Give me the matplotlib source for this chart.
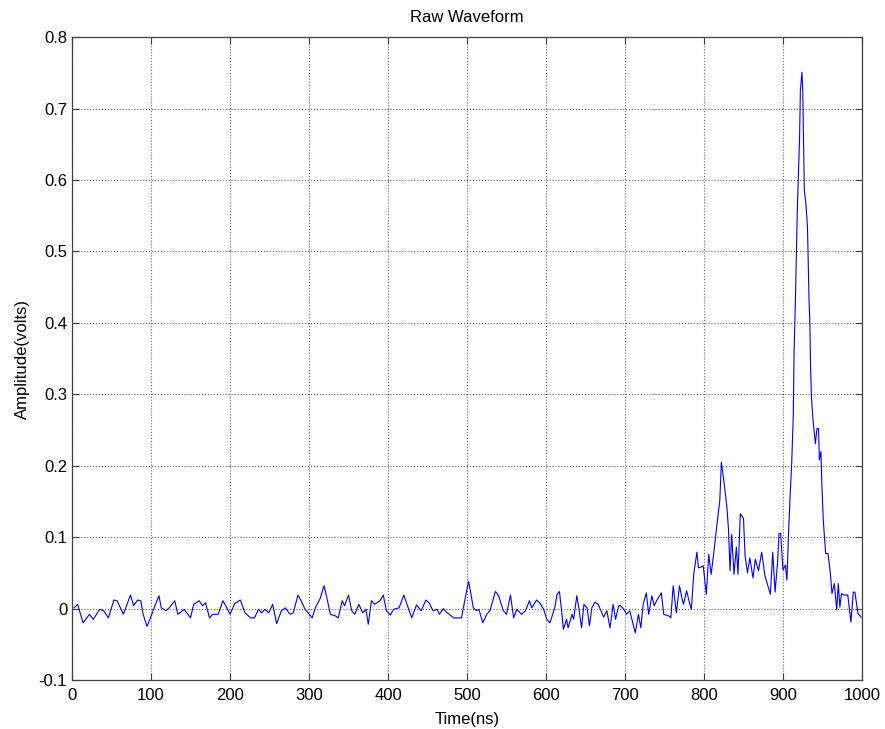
import matplotlib
matplotlib.use("Agg")
import matplotlib.pyplot as plt

plt.rcParams['font.family'] = ['Liberation Sans', 'DejaVu Sans']

# Time samples (ns) and amplitude (volts)
time_ns = [
    2.5, 7, 14, 22, 27, 35, 40, 46, 53, 57, 65, 74, 78, 83, 87, 90, 95, 101, 105, 110,
    113, 119, 123, 130, 134, 142, 150, 154, 161, 165, 169, 174, 178, 185, 191, 196, 200, 206, 213, 219,
    226, 231, 236, 240, 244, 249, 254, 259, 265, 270, 276, 280, 286, 290, 295, 301, 304, 308, 314, 319,
    323, 327, 333, 337, 342, 345, 350, 354, 358, 363, 368, 372, 375, 379, 383, 390, 394, 398, 403, 407,
    414, 420, 424, 430, 436, 442, 448, 452, 457, 462, 465, 470, 474, 483, 493, 499, 502, 505, 508, 512,
    515, 520, 525, 529, 536, 540, 546, 550, 555, 559, 563, 569, 574, 579, 582, 588, 592, 597, 601, 605,
    611, 614, 617, 620, 622, 626, 628, 633, 635, 639, 642, 645, 648, 652, 655, 658, 662, 666, 673, 677,
    681, 685, 688, 692, 694, 698, 702, 706, 713, 717, 720, 723, 727, 730, 734, 737, 740, 744, 746, 749,
    755, 758, 761, 765, 769, 772, 774, 778, 782, 784, 787, 791, 793, 796, 799, 803, 806, 809, 812, 816,
    820, 822, 825, 829, 831, 833, 835, 838, 841, 843, 846, 850, 852, 855, 858, 862, 865, 869, 873, 877,
    880, 884, 887, 890, 893, 895, 897, 900, 903, 905, 907, 909, 911, 913, 914, 916, 918, 921, 922, 924,
    925, 926, 927, 929, 931, 933, 934, 935, 936, 938, 941, 943, 945, 946, 948, 949, 951, 954, 957, 960,
    962, 965, 968, 970, 972, 974, 977, 982, 986, 989, 991, 995, 999,
]
amplitude = [
    0.001, 0.006, -0.020, -0.008, -0.015, -0.001, -0.003, -0.013, 0.012, 0.011, -0.008, 0.019, 0.004, 0.012, 0.011, -0.008, -0.025, -0.008, 0.004, 0.018,
    0.001, -0.003, 0.001, 0.011, -0.008, -0.001, -0.013, 0.006, 0.011, 0.004, 0.008, -0.013, -0.008, -0.008, 0.011, 0.001, -0.008, 0.007, 0.012, -0.006,
    -0.013, -0.013, -0.001, -0.006, -0.001, -0.006, 0.006, -0.021, -0.003, 0.001, -0.008, -0.006, 0.019, 0.011, -0.001, -0.009, -0.013, 0.001, 0.014, 0.032,
    0.013, -0.008, -0.010, -0.013, 0.011, 0.004, 0.019, -0.003, -0.008, 0.006, -0.006, -0.001, -0.022, 0.011, 0.006, 0.011, 0.019, -0.003, -0.009, -0.001,
    0.001, 0.019, 0.006, -0.013, 0.005, -0.003, 0.012, 0.008, -0.003, -0.001, -0.008, 0.000, -0.005, -0.013, -0.013, 0.022, 0.038, 0.020, 0.001, -0.003,
    -0.001, -0.020, -0.008, -0.003, 0.024, 0.018, -0.003, -0.008, 0.019, -0.013, -0.001, -0.008, -0.003, 0.011, 0.001, 0.012, 0.008, -0.001, -0.015, -0.020,
    0.001, 0.020, 0.024, -0.006, -0.029, -0.015, -0.027, -0.008, -0.015, 0.018, -0.003, -0.027, 0.006, 0.001, -0.024, 0.001, 0.009, 0.006, -0.012, -0.003,
    -0.027, 0.006, -0.015, 0.004, 0.004, 0.000, -0.008, -0.003, -0.034, -0.008, -0.027, 0.006, 0.022, -0.008, 0.018, 0.004, 0.011, 0.018, 0.022, -0.008,
    -0.010, -0.013, 0.032, -0.006, 0.032, 0.015, 0.006, 0.025, 0.006, -0.001, 0.048, 0.079, 0.057, 0.058, 0.060, 0.020, 0.076, 0.048, 0.074, 0.114,
    0.151, 0.205, 0.180, 0.142, 0.111, 0.053, 0.104, 0.048, 0.086, 0.048, 0.133, 0.126, 0.074, 0.050, 0.071, 0.043, 0.069, 0.053, 0.079, 0.047,
    0.035, 0.020, 0.079, 0.023, 0.063, 0.105, 0.105, 0.054, 0.061, 0.040, 0.105, 0.157, 0.203, 0.269, 0.357, 0.445, 0.553, 0.660, 0.726, 0.751,
    0.726, 0.660, 0.585, 0.567, 0.534, 0.430, 0.400, 0.334, 0.297, 0.264, 0.231, 0.252, 0.252, 0.208, 0.220, 0.180, 0.124, 0.077, 0.077, 0.049,
    0.021, 0.035, -0.002, 0.035, 0.002, 0.021, 0.019, 0.019, -0.019, 0.023, 0.023, -0.007, -0.012,
]

x_ticks = list(range(0, 1001, 100))
y_ticks = [-0.1, 0, 0.1, 0.2, 0.3, 0.4, 0.5, 0.6, 0.7, 0.8]
y_labels = ['-0.1', '0', '0.1', '0.2', '0.3', '0.4', '0.5', '0.6', '0.7', '0.8']

fig = plt.figure(figsize=(8.85, 7.29), dpi=100)
ax = fig.add_axes([0.0814, 0.0672, 0.8926, 0.8818])

ax.plot(time_ns, amplitude, color='blue', linewidth=0.8)

ax.set_xlim(0, 1000)
ax.set_ylim(-0.1, 0.8)
ax.set_xticks(x_ticks)
ax.set_yticks(y_ticks)
ax.set_yticklabels(y_labels)

# MATLAB-like look: inward ticks on all sides, dotted grid
ax.tick_params(direction='in', top=True, right=True, length=5, labelsize=12,
               color='#404040')
ax.tick_params(axis='x', pad=6)
ax.grid(True, linestyle=':', color='black', linewidth=0.8, alpha=0.6)
for sp in ax.spines.values():
    sp.set_linewidth(0.9)
    sp.set_color('#404040')

ax.set_xlabel("Time(ns)", fontsize=12, labelpad=6)
ax.set_ylabel("Amplitude(volts)", fontsize=12, labelpad=6)
ax.set_title("Raw Waveform", fontsize=12, pad=11)

fig.savefig("out.png", dpi=100)
plt.close(fig)
